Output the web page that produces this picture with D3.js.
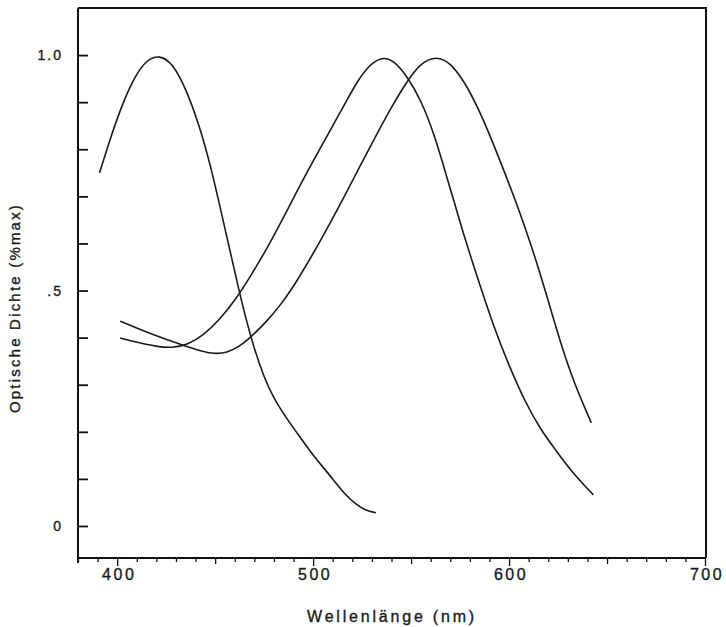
<!DOCTYPE html>
<html>
<head>
<meta charset="utf-8">
<script src="https://cdn.jsdelivr.net/npm/d3@7"></script>
<style>
html,body{margin:0;padding:0;background:#fff;}
svg{display:block;}
text{font-family:"Liberation Sans",Arial,Helvetica,sans-serif;fill:#1a1a1a;stroke:#1a1a1a;stroke-width:0.35px;}
</style>
</head>
<body>
<script>
// ---- data ----
const wlS = [391,397,403,409,415,421.5,428,435,442,448,454,460,465,470,475,480,487,494,500,505,510,516,522,527,532];
const odS = [0.75,0.83,0.90,0.955,0.99,1.0,0.984,0.93,0.85,0.76,0.65,0.54,0.45,0.375,0.315,0.27,0.225,0.185,0.15,0.125,0.10,0.068,0.045,0.033,0.028];

const wlM = [401.5,410,420,428,436,444,452,460,468,476,484,492,500,508,516,523,529,535,541,548,555,562,569,576,584,592,600,608,616,624,632,643];
const odM = [0.399,0.39,0.381,0.378,0.385,0.405,0.437,0.478,0.53,0.586,0.648,0.713,0.775,0.835,0.895,0.948,0.98,0.996,0.99,0.955,0.905,0.83,0.73,0.63,0.525,0.425,0.34,0.265,0.205,0.16,0.115,0.066];

const wlL = [401.5,410,418,426,434,442,450,456,462,468,476,484,492,500,508,516,524,532,540,548,555,563,570,577,584,591,598,605,612,619,626,633,642];
const odL = [0.435,0.42,0.407,0.395,0.383,0.372,0.365,0.368,0.38,0.40,0.433,0.472,0.522,0.578,0.638,0.70,0.765,0.828,0.89,0.945,0.984,0.998,0.984,0.945,0.89,0.822,0.748,0.672,0.588,0.493,0.392,0.305,0.219];

const xMajorTicks = [400,500,600,700];
const xTickLabels = ["400","500","600","700"];
const yTickValues = [0,0.1,0.2,0.3,0.4,0.5,0.6,0.7,0.8,0.9,1.0];
const yLabelValues = [0,0.5,1.0];
const yTickLabels = ["0",".5","1.0"];
const xTitle = "Wellenlänge (nm)";
const yTitle = "Optische Dichte (%max)";

// ---- layout ----
const W = 726, H = 627;
const mLeft = 78, mRight = 705, mTop = 8, mBottom = 558;

const x = d3.scaleLinear().domain([380,700]).range([mLeft,mRight]);
const y = d3.scaleLinear().domain([-0.068,1.1]).range([mBottom,mTop]);

const svg = d3.select("body").append("svg").attr("width",W).attr("height",H);

// frame (top and right)
svg.append("path")
  .attr("d",`M${mLeft},${mTop}H${mRight+1}V${mBottom}`)
  .attr("fill","none").attr("stroke","#111").attr("stroke-width",2);

// left axis: inward ticks
const yAxis = d3.axisRight(y).tickValues(yTickValues).tickSize(10).tickFormat("");
const gy = svg.append("g").attr("transform",`translate(${mLeft},0)`).call(yAxis);
gy.select(".domain").attr("d",`M0,${mTop}V${mBottom+5}`).attr("stroke","#111").attr("stroke-width",2);
gy.selectAll(".tick line").attr("stroke","#111").attr("stroke-width",1.8);

// y labels
svg.append("g").selectAll("text").data(yLabelValues).join("text")
  .attr("x",63).attr("y",d=>y(d)+5)
  .attr("text-anchor","end")
  .style("font-size","14px").style("letter-spacing","2px")
  .text((d,i)=>yTickLabels[i]);

// bottom axis: outward ticks every 10 nm
const minorVals = d3.range(380,701,10);
const xAxis = d3.axisBottom(x).tickValues(minorVals).tickSize(4).tickFormat("");
const gx = svg.append("g").attr("transform",`translate(0,${mBottom})`).call(xAxis);
gx.select(".domain").attr("d",`M${mLeft},0H${mRight}`).attr("stroke","#111").attr("stroke-width",2);
gx.selectAll(".tick line")
  .attr("stroke","#111").attr("stroke-width",1.3)
  .attr("y2",d=> d%100===0 ? 8 : (d%50===0 ? 6 : 4));

// x labels
svg.append("g").selectAll("text").data(xMajorTicks).join("text")
  .attr("x",d=>x(d)+2).attr("y",580)
  .attr("text-anchor","middle")
  .style("font-size","16px").style("letter-spacing","2.5px")
  .text((d,i)=>xTickLabels[i]);

// titles
svg.append("text").attr("x",392).attr("y",622).attr("text-anchor","middle")
  .style("font-size","16px").style("letter-spacing","2.8px").text(xTitle);
svg.append("text").attr("transform","translate(20,308) rotate(-90)").attr("text-anchor","middle")
  .style("font-size","15px").style("letter-spacing","2.2px").text(yTitle);

// curves
const line = d3.line().x(d=>x(d[0])).y(d=>y(d[1])).curve(d3.curveBasis);
[[wlS,odS],[wlM,odM],[wlL,odL]].forEach(([wl,od])=>{
  svg.append("path").datum(d3.zip(wl,od))
    .attr("d",line).attr("fill","none").attr("stroke","#1a1a1a").attr("stroke-width",1.6);
});
</script>
</body>
</html>
